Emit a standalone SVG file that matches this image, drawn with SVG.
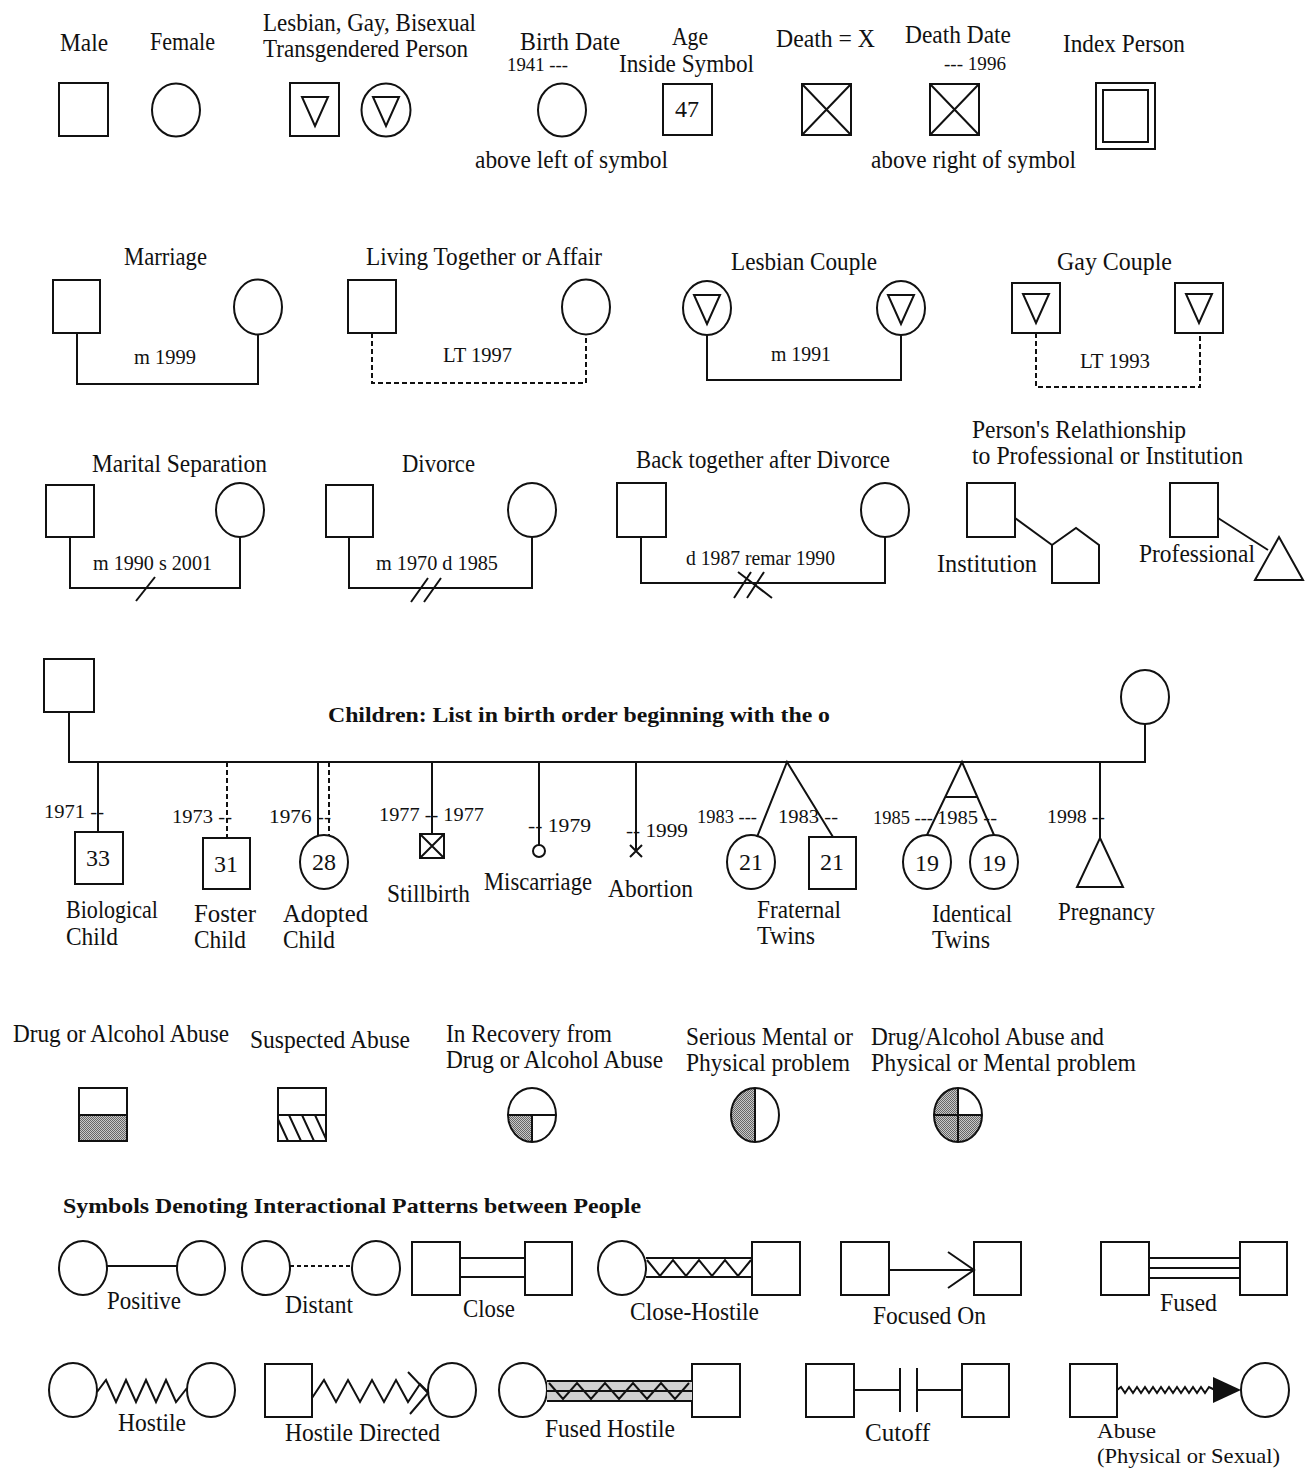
<svg xmlns="http://www.w3.org/2000/svg" width="1312" height="1469" viewBox="0 0 1312 1469">
<style>
.s{fill:none;stroke:#111;stroke-width:2}
.w{fill:#fff;stroke:#111;stroke-width:2}
.d{stroke-dasharray:5,3}
.t{font-family:"Liberation Serif","Times New Roman",serif;font-size:25px;fill:#111}
.y{font-size:18px}
.m{font-size:20px}
.n{font-size:24px}
.sm{font-size:22px}
.b{font-weight:bold;font-size:22px}
.c{text-anchor:middle}
.g{fill:url(#stip);stroke:none}
</style>
<defs>
<pattern id="stip" width="2" height="2" patternUnits="userSpaceOnUse">
<rect width="2" height="2" fill="#c8c8c8"/><rect width="1" height="1" fill="#666"/><rect x="1" y="1" width="1" height="1" fill="#666"/>
</pattern>
<clipPath id="hc"><rect x="279" y="1115" width="46" height="26"/></clipPath>
</defs>
<rect width="1312" height="1469" fill="#fff"/>

<!-- Row 1 -->
<g id="male">
<text class="t" x="60" y="51" textLength="48" lengthAdjust="spacingAndGlyphs">Male</text>
<rect class="w" x="59" y="83" width="49" height="53"/>
</g>
<g id="female">
<text class="t" x="150" y="50" textLength="65" lengthAdjust="spacingAndGlyphs">Female</text>
<ellipse class="w" cx="176" cy="110" rx="24" ry="26.5"/>
</g>
<g id="lgbt">
<text class="t" x="263" y="31" textLength="213" lengthAdjust="spacingAndGlyphs">Lesbian, Gay, Bisexual</text>
<text class="t" x="263" y="57" textLength="205" lengthAdjust="spacingAndGlyphs">Transgendered Person</text>
<rect class="w" x="290" y="83" width="49" height="53"/>
<polygon class="s" points="302,97 328,97 315,126"/>
<ellipse class="w" cx="386" cy="110" rx="24.5" ry="26.5"/>
<polygon class="s" points="373,97 399,97 386,126"/>
</g>
<g id="birth-date">
<text class="t" x="520" y="50" textLength="100" lengthAdjust="spacingAndGlyphs">Birth Date</text>
<text class="t y" x="507" y="71" textLength="61" lengthAdjust="spacingAndGlyphs">1941 ---</text>
<ellipse class="w" cx="562" cy="110" rx="24" ry="26.5"/>
<text class="t" x="475" y="168" textLength="193" lengthAdjust="spacingAndGlyphs">above left of symbol</text>
</g>
<g id="age">
<text class="t" x="672" y="45" textLength="36" lengthAdjust="spacingAndGlyphs">Age</text>
<text class="t" x="619" y="72" textLength="135" lengthAdjust="spacingAndGlyphs">Inside Symbol</text>
<rect class="w" x="663" y="84" width="49" height="51"/>
<text class="t n c" x="687" y="117">47</text>
</g>
<g id="death">
<text class="t" x="776" y="47" textLength="99" lengthAdjust="spacingAndGlyphs">Death = X</text>
<rect class="w" x="802" y="84" width="49" height="51"/>
<path class="s" d="M802,84 L851,135 M851,84 L802,135"/>
</g>
<g id="death-date">
<text class="t" x="905" y="43" textLength="106" lengthAdjust="spacingAndGlyphs">Death Date</text>
<text class="t y" x="944" y="70" textLength="62" lengthAdjust="spacingAndGlyphs">--- 1996</text>
<rect class="w" x="930" y="84" width="49" height="51"/>
<path class="s" d="M930,84 L979,135 M979,84 L930,135"/>
<text class="t" x="871" y="168" textLength="205" lengthAdjust="spacingAndGlyphs">above right of symbol</text>
</g>
<g id="index-person">
<text class="t" x="1063" y="52" textLength="122" lengthAdjust="spacingAndGlyphs">Index Person</text>
<rect class="w" x="1096" y="83" width="59" height="66"/>
<rect class="w" x="1103" y="90" width="45" height="52"/>
</g>

<!-- Row 2 -->
<g id="marriage">
<text class="t" x="124" y="265" textLength="83" lengthAdjust="spacingAndGlyphs">Marriage</text>
<rect class="w" x="53" y="280" width="47" height="53"/>
<ellipse class="w" cx="258" cy="307" rx="24" ry="27.5"/>
<text class="t m" x="134" y="364" textLength="62" lengthAdjust="spacingAndGlyphs">m 1999</text>
</g>
<g id="living-together">
<text class="t" x="366" y="265" textLength="236" lengthAdjust="spacingAndGlyphs">Living Together or Affair</text>
<rect class="w" x="348" y="280" width="48" height="53"/>
<ellipse class="w" cx="586" cy="307" rx="24" ry="27.5"/>
<text class="t m" x="443" y="362" textLength="69" lengthAdjust="spacingAndGlyphs">LT 1997</text>
</g>
<g id="lesbian-couple">
<text class="t" x="731" y="270" textLength="146" lengthAdjust="spacingAndGlyphs">Lesbian Couple</text>
<ellipse class="w" cx="707" cy="308" rx="24" ry="27"/>
<polygon class="s" points="694,295 720,295 707,324"/>
<ellipse class="w" cx="901" cy="308" rx="24" ry="27"/>
<polygon class="s" points="888,295 914,295 901,324"/>
<text class="t m" x="771" y="361" textLength="60" lengthAdjust="spacingAndGlyphs">m 1991</text>
</g>
<g id="gay-couple">
<text class="t" x="1057" y="270" textLength="115" lengthAdjust="spacingAndGlyphs">Gay Couple</text>
<rect class="w" x="1012" y="283" width="48" height="50"/>
<polygon class="s" points="1023,294 1049,294 1036,323"/>
<rect class="w" x="1175" y="283" width="48" height="50"/>
<polygon class="s" points="1186,294 1212,294 1199,323"/>
<text class="t m" x="1080" y="368" textLength="70" lengthAdjust="spacingAndGlyphs">LT 1993</text>
</g>

<!-- Row 3 -->
<g id="separation">
<text class="t" x="92" y="472" textLength="175" lengthAdjust="spacingAndGlyphs">Marital Separation</text>
<rect class="w" x="46" y="485" width="48" height="52"/>
<ellipse class="w" cx="240" cy="510" rx="24" ry="27"/>
<text class="t m" x="93" y="570" textLength="119" lengthAdjust="spacingAndGlyphs">m 1990 s 2001</text>
</g>
<g id="divorce">
<text class="t" x="402" y="472" textLength="73" lengthAdjust="spacingAndGlyphs">Divorce</text>
<rect class="w" x="326" y="485" width="47" height="52"/>
<ellipse class="w" cx="532" cy="510" rx="24" ry="27"/>
<text class="t m" x="376" y="570" textLength="122" lengthAdjust="spacingAndGlyphs">m 1970 d 1985</text>
</g>
<g id="back-together">
<text class="t" x="636" y="468" textLength="254" lengthAdjust="spacingAndGlyphs">Back together after Divorce</text>
<rect class="w" x="617" y="483" width="49" height="54"/>
<ellipse class="w" cx="885" cy="510" rx="24" ry="27"/>
<text class="t m" x="686" y="565" textLength="149" lengthAdjust="spacingAndGlyphs">d 1987 remar 1990</text>
</g>
<g id="institution">
<text class="t" x="972" y="438" textLength="214" lengthAdjust="spacingAndGlyphs">Person's Relathionship</text>
<text class="t" x="972" y="464" textLength="271" lengthAdjust="spacingAndGlyphs">to Professional or Institution</text>
<rect class="w" x="967" y="483" width="48" height="54"/>
<polygon class="w" points="1052,545 1076,528 1099,545 1099,583 1052,583"/>
<text class="t" x="937" y="572" textLength="100" lengthAdjust="spacingAndGlyphs">Institution</text>
</g>
<g id="professional">
<rect class="w" x="1170" y="483" width="48" height="54"/>
<polygon class="w" points="1279,537 1303,580 1255,580"/>
<text class="t" x="1139" y="562" textLength="116" lengthAdjust="spacingAndGlyphs">Professional</text>
</g>

<!-- Row 4 children -->
<g id="father"><rect class="w" x="44" y="659" width="50" height="53"/></g>
<g id="mother"><ellipse class="w" cx="1145" cy="697" rx="24" ry="27"/></g>
<text class="t b" x="328" y="722" textLength="502" lengthAdjust="spacingAndGlyphs">Children: List in birth order beginning with the o</text>
<g id="bio-child">
<text class="t y" x="44" y="818" textLength="60" lengthAdjust="spacingAndGlyphs">1971 --</text>
<rect class="w" x="75" y="832" width="48" height="52"/>
<text class="t n c" x="98" y="866">33</text>
<text class="t" x="66" y="918" textLength="92" lengthAdjust="spacingAndGlyphs">Biological</text>
<text class="t" x="66" y="945" textLength="52" lengthAdjust="spacingAndGlyphs">Child</text>
</g>
<g id="foster-child">
<text class="t y" x="172" y="823" textLength="60" lengthAdjust="spacingAndGlyphs">1973 --</text>
<rect class="w" x="203" y="838" width="47" height="51"/>
<text class="t n c" x="226" y="872">31</text>
<text class="t" x="194" y="922" textLength="62" lengthAdjust="spacingAndGlyphs">Foster</text>
<text class="t" x="194" y="948" textLength="52" lengthAdjust="spacingAndGlyphs">Child</text>
</g>
<g id="adopted-child">
<text class="t y" x="269" y="823" textLength="62" lengthAdjust="spacingAndGlyphs">1976 --</text>
<ellipse class="w" cx="324" cy="862" rx="24" ry="27"/>
<text class="t n c" x="324" y="870">28</text>
<text class="t" x="283" y="922" textLength="85" lengthAdjust="spacingAndGlyphs">Adopted</text>
<text class="t" x="283" y="948" textLength="52" lengthAdjust="spacingAndGlyphs">Child</text>
</g>
<g id="stillbirth">
<text class="t y" x="379" y="821" textLength="105" lengthAdjust="spacingAndGlyphs">1977 -- 1977</text>
<rect class="w" x="420" y="834" width="24" height="24"/>
<path class="s" d="M420,834 L444,858 M444,834 L420,858"/>
<text class="t" x="387" y="902" textLength="83" lengthAdjust="spacingAndGlyphs">Stillbirth</text>
</g>
<g id="miscarriage">
<text class="t y" x="528" y="832" textLength="63" lengthAdjust="spacingAndGlyphs">-- 1979</text>
<circle class="w" cx="539" cy="851" r="6"/>
<text class="t" x="484" y="890" textLength="108" lengthAdjust="spacingAndGlyphs">Miscarriage</text>
</g>
<g id="abortion">
<text class="t y" x="626" y="837" textLength="62" lengthAdjust="spacingAndGlyphs">-- 1999</text>
<path class="s" d="M630,845 L642,857 M642,845 L630,857"/>
<text class="t" x="608" y="897" textLength="85" lengthAdjust="spacingAndGlyphs">Abortion</text>
</g>
<g id="fraternal-twins">
<text class="t y" x="697" y="823" textLength="60" lengthAdjust="spacingAndGlyphs">1983 ---</text>
<text class="t y" x="778" y="823" textLength="60" lengthAdjust="spacingAndGlyphs">1983 --</text>
<ellipse class="w" cx="751" cy="862" rx="24" ry="27"/>
<text class="t n c" x="751" y="870">21</text>
<rect class="w" x="809" y="837" width="47" height="52"/>
<text class="t n c" x="832" y="870">21</text>
<text class="t" x="757" y="918" textLength="84" lengthAdjust="spacingAndGlyphs">Fraternal</text>
<text class="t" x="757" y="944" textLength="58" lengthAdjust="spacingAndGlyphs">Twins</text>
</g>
<g id="identical-twins">
<text class="t y" x="873" y="824" textLength="60" lengthAdjust="spacingAndGlyphs">1985 ---</text>
<text class="t y" x="937" y="824" textLength="60" lengthAdjust="spacingAndGlyphs">1985 --</text>
<ellipse class="w" cx="927" cy="862" rx="24" ry="27"/>
<text class="t n c" x="927" y="871">19</text>
<ellipse class="w" cx="994" cy="862" rx="24" ry="27"/>
<text class="t n c" x="994" y="871">19</text>
<text class="t" x="932" y="922" textLength="80" lengthAdjust="spacingAndGlyphs">Identical</text>
<text class="t" x="932" y="948" textLength="58" lengthAdjust="spacingAndGlyphs">Twins</text>
</g>
<g id="pregnancy">
<text class="t y" x="1047" y="823" textLength="58" lengthAdjust="spacingAndGlyphs">1998 --</text>
<polygon class="w" points="1100,838 1123,887 1077,887"/>
<text class="t" x="1058" y="920" textLength="97" lengthAdjust="spacingAndGlyphs">Pregnancy</text>
</g>

<!-- Row 5 -->
<g id="drug-abuse">
<text class="t" x="13" y="1042" textLength="216" lengthAdjust="spacingAndGlyphs">Drug or Alcohol Abuse</text>
<rect class="g" x="79" y="1115" width="48" height="26"/>
<rect class="s" x="79" y="1088" width="48" height="53"/>
<line class="s" x1="79" y1="1115" x2="127" y2="1115"/>
</g>
<g id="suspected-abuse">
<text class="t" x="250" y="1048" textLength="160" lengthAdjust="spacingAndGlyphs">Suspected Abuse</text>
<g clip-path="url(#hc)"><path class="s" d="M276,1115 L288,1141 M289,1115 L301,1141 M302,1115 L314,1141 M315,1115 L327,1141"/></g>
<rect class="s" x="278" y="1088" width="48" height="53"/>
<line class="s" x1="278" y1="1115" x2="326" y2="1115"/>
</g>
<g id="recovery">
<text class="t" x="446" y="1042" textLength="166" lengthAdjust="spacingAndGlyphs">In Recovery from</text>
<text class="t" x="446" y="1068" textLength="217" lengthAdjust="spacingAndGlyphs">Drug or Alcohol Abuse</text>
<path class="g" d="M532,1115 L508,1115 A24,27 0 0,0 532,1142 Z"/>
<ellipse class="s" cx="532" cy="1115" rx="24" ry="27"/>
<path class="s" d="M508,1115 L556,1115 M532,1115 L532,1142"/>
</g>
<g id="mental-problem">
<text class="t" x="686" y="1045" textLength="167" lengthAdjust="spacingAndGlyphs">Serious Mental or</text>
<text class="t" x="686" y="1071" textLength="164" lengthAdjust="spacingAndGlyphs">Physical problem</text>
<path class="g" d="M755,1088 A24,27 0 0,0 755,1142 Z"/>
<ellipse class="s" cx="755" cy="1115" rx="24" ry="27"/>
<line class="s" x1="755" y1="1088" x2="755" y2="1142"/>
</g>
<g id="combined-problem">
<text class="t" x="871" y="1045" textLength="233" lengthAdjust="spacingAndGlyphs">Drug/Alcohol Abuse and</text>
<text class="t" x="871" y="1071" textLength="265" lengthAdjust="spacingAndGlyphs">Physical or Mental problem</text>
<path class="g" d="M958,1088 A24,27 0 0,0 958,1142 A24,27 0 0,0 982,1115 L958,1115 Z"/>
<ellipse class="s" cx="958" cy="1115" rx="24" ry="27"/>
<path class="s" d="M958,1088 L958,1142 M934,1115 L982,1115"/>
</g>

<!-- Row 6 -->
<text class="t b" x="63" y="1213" textLength="578" lengthAdjust="spacingAndGlyphs">Symbols Denoting Interactional Patterns between People</text>
<g id="positive">
<ellipse class="w" cx="83" cy="1268" rx="24" ry="27"/>
<ellipse class="w" cx="201" cy="1268" rx="24" ry="27"/>
<text class="t" x="107" y="1309" textLength="74" lengthAdjust="spacingAndGlyphs">Positive</text>
</g>
<g id="distant">
<ellipse class="w" cx="266" cy="1268" rx="24" ry="27"/>
<ellipse class="w" cx="376" cy="1268" rx="24" ry="27"/>
<text class="t" x="285" y="1313" textLength="68" lengthAdjust="spacingAndGlyphs">Distant</text>
</g>
<g id="close">
<rect class="w" x="412" y="1242" width="48" height="53"/>
<rect class="w" x="525" y="1242" width="47" height="53"/>
<text class="t" x="463" y="1317" textLength="52" lengthAdjust="spacingAndGlyphs">Close</text>
</g>
<g id="close-hostile">
<ellipse class="w" cx="622" cy="1268" rx="24" ry="27"/>
<rect class="w" x="752" y="1242" width="48" height="53"/>
<text class="t" x="630" y="1320" textLength="129" lengthAdjust="spacingAndGlyphs">Close-Hostile</text>
</g>
<g id="focused-on">
<rect class="w" x="841" y="1242" width="48" height="53"/>
<rect class="w" x="974" y="1242" width="47" height="53"/>
<text class="t" x="873" y="1324" textLength="113" lengthAdjust="spacingAndGlyphs">Focused On</text>
</g>
<g id="fused">
<rect class="w" x="1101" y="1242" width="48" height="53"/>
<rect class="w" x="1240" y="1242" width="47" height="53"/>
<text class="t" x="1160" y="1311" textLength="57" lengthAdjust="spacingAndGlyphs">Fused</text>
</g>

<!-- Row 7 -->
<g id="hostile">
<ellipse class="w" cx="73" cy="1390" rx="24" ry="27"/>
<ellipse class="w" cx="211" cy="1390" rx="24" ry="27"/>
<text class="t" x="118" y="1431" textLength="68" lengthAdjust="spacingAndGlyphs">Hostile</text>
</g>
<g id="hostile-directed">
<rect class="w" x="265" y="1364" width="47" height="53"/>
<ellipse class="w" cx="452" cy="1390" rx="24" ry="27"/>
<text class="t" x="285" y="1441" textLength="155" lengthAdjust="spacingAndGlyphs">Hostile Directed</text>
</g>
<g id="fused-hostile">
<ellipse class="w" cx="523" cy="1390" rx="24" ry="27"/>
<rect class="w" x="692" y="1364" width="48" height="53"/>
<text class="t" x="545" y="1437" textLength="130" lengthAdjust="spacingAndGlyphs">Fused Hostile</text>
</g>
<g id="cutoff">
<rect class="w" x="806" y="1364" width="48" height="53"/>
<rect class="w" x="962" y="1364" width="47" height="53"/>
<text class="t" x="865" y="1441" textLength="65" lengthAdjust="spacingAndGlyphs">Cutoff</text>
</g>
<g id="abuse">
<rect class="w" x="1070" y="1364" width="47" height="53"/>
<ellipse class="w" cx="1265" cy="1390" rx="24" ry="27"/>
<text class="t sm" x="1097" y="1438" textLength="59" lengthAdjust="spacingAndGlyphs">Abuse</text>
<text class="t sm" x="1097" y="1463" textLength="183" lengthAdjust="spacingAndGlyphs">(Physical or Sexual)</text>
</g>

<!-- Connectors -->
<g id="connectors">
<path class="s" d="M77,333 L77,384 L258,384 L258,335"/>
<path class="s d" d="M372,333 L372,383 L586,383 L586,335"/>
<path class="s" d="M707,335 L707,380 L901,380 L901,335"/>
<path class="s d" d="M1036,333 L1036,387 L1200,387 L1200,333"/>
<path class="s" d="M70,537 L70,588 L240,588 L240,537"/>
<path class="s" d="M136,601 L155,577"/>
<path class="s" d="M349,537 L349,588 L532,588 L532,537"/>
<path class="s" d="M411,602 L428,578 M424,602 L441,578"/>
<path class="s" d="M641,537 L641,583 L885,583 L885,537"/>
<path class="s" d="M734,598 L751,572 M747,598 L764,572 M738,572 L772,598"/>
<path class="s" d="M1015,518 L1052,545"/>
<path class="s" d="M1218,518 L1268,550"/>
<path class="s" d="M69,712 L69,762 L1145,762 L1145,724"/>
<path class="s" d="M98,762 L98,832"/>
<path class="s d" d="M227,762 L227,838"/>
<path class="s" d="M318,762 L318,836"/>
<path class="s d" d="M329,762 L329,836"/>
<path class="s" d="M432,762 L432,834"/>
<path class="s" d="M539,762 L539,845"/>
<path class="s" d="M636,762 L636,851"/>
<path class="s" d="M757,837 L787,762 L833,837"/>
<path class="s" d="M927,835 L962,762 L994,835"/>
<path class="s" d="M945,797 L978,797" stroke-width="3"/>
<path class="s" d="M1100,762 L1100,838"/>
<path class="s" d="M107,1266 L177,1266"/>
<path class="s" d="M290,1266 L352,1266" stroke-dasharray="4,3"/>
<path class="s" d="M460,1258 L525,1258"/>
<path class="s" d="M460,1277 L525,1277" stroke-width="3"/>
<path class="s" d="M646,1258 L752,1258"/>
<path class="s" d="M646,1277 L752,1277" stroke-width="3"/>
<polyline class="s" points="647,1260 660,1276 673,1260 686,1276 699,1260 712,1276 725,1260 738,1276 751,1260"/>
<path class="s" d="M889,1270 L974,1270 M948,1252 L974,1270 L948,1288"/>
<path class="s" d="M1149,1258 L1240,1258 M1149,1268 L1240,1268 M1149,1278 L1240,1278"/>
<polyline class="s" points="97,1392 106,1380 116,1402 126,1380 136,1402 146,1380 156,1402 166,1380 176,1402 187,1388"/>
<polyline class="s" points="312,1398 324,1380 336,1402 348,1380 360,1402 372,1380 384,1402 396,1380 408,1402 420,1384 428,1392"/>
<path class="s" d="M408,1372 L428,1393 L410,1414"/>
<rect x="547" y="1382" width="145" height="18" fill="#d0d0d0"/>
<path class="s" d="M547,1381 L692,1381 M547,1401 L692,1401"/>
<path class="s" d="M547,1391 L692,1391" stroke="#888"/>
<polyline class="s" points="549,1383 563,1399 577,1383 591,1399 605,1383 619,1399 633,1383 647,1399 661,1383 675,1399 689,1383"/>
<path class="s" d="M854,1390 L900,1390 M917,1390 L962,1390" stroke-width="3"/>
<path class="s" d="M900,1368 L900,1412 M917,1368 L917,1412"/>
<polyline class="s" stroke-width="1.5" points="1117,1390 1121,1387 1125,1393 1129,1387 1133,1393 1137,1387 1141,1393 1145,1387 1149,1393 1153,1387 1157,1393 1161,1387 1165,1393 1169,1387 1173,1393 1177,1387 1181,1393 1185,1387 1189,1393 1193,1387 1197,1393 1201,1387 1205,1393 1209,1387 1215,1390"/>
<polygon points="1213,1377 1241,1390 1213,1403" fill="#111"/>
</g>
</svg>
